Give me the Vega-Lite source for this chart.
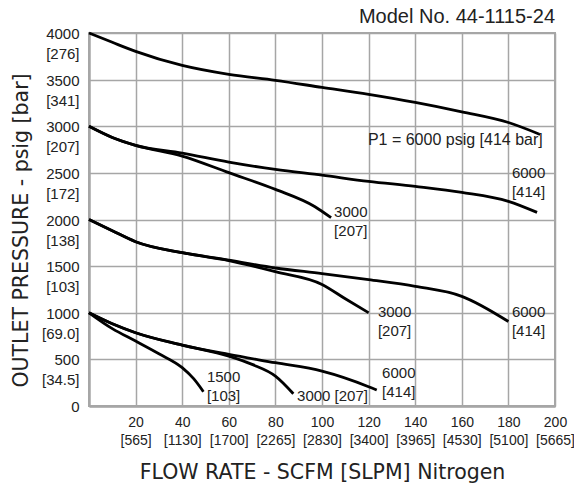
{
  "$schema": "https://vega.github.io/schema/vega-lite/v6.json",
  "width": 466,
  "height": 373,
  "autosize": {"type": "none"},
  "padding": {"left": 89, "top": 33, "right": 19, "bottom": 80},
  "background": "white",
  "config": {"view": {"stroke": "#a6a6a6", "strokeWidth": 2}, "font": "Liberation Sans"},
  "datasets": {
    "curves": [
      {"series": "A", "flow": 0, "pressure": 4000},
      {"series": "A", "flow": 10, "pressure": 3900},
      {"series": "A", "flow": 20, "pressure": 3803},
      {"series": "A", "flow": 40, "pressure": 3652},
      {"series": "A", "flow": 60, "pressure": 3556},
      {"series": "A", "flow": 80, "pressure": 3492},
      {"series": "A", "flow": 100, "pressure": 3417},
      {"series": "A", "flow": 120, "pressure": 3342},
      {"series": "A", "flow": 140, "pressure": 3256},
      {"series": "A", "flow": 160, "pressure": 3155},
      {"series": "A", "flow": 180, "pressure": 3040},
      {"series": "A", "flow": 193.6, "pressure": 2912},
      {"series": "B", "flow": 0, "pressure": 3000},
      {"series": "B", "flow": 10, "pressure": 2880},
      {"series": "B", "flow": 20, "pressure": 2795},
      {"series": "B", "flow": 40, "pressure": 2712},
      {"series": "B", "flow": 60, "pressure": 2616},
      {"series": "B", "flow": 80, "pressure": 2537},
      {"series": "B", "flow": 100, "pressure": 2475},
      {"series": "B", "flow": 120, "pressure": 2409},
      {"series": "B", "flow": 140, "pressure": 2355},
      {"series": "B", "flow": 160, "pressure": 2291},
      {"series": "B", "flow": 180, "pressure": 2195},
      {"series": "B", "flow": 192.3, "pressure": 2076},
      {"series": "C", "flow": 0, "pressure": 3000},
      {"series": "C", "flow": 10, "pressure": 2880},
      {"series": "C", "flow": 20, "pressure": 2795},
      {"series": "C", "flow": 40, "pressure": 2680},
      {"series": "C", "flow": 60, "pressure": 2502},
      {"series": "C", "flow": 80, "pressure": 2323},
      {"series": "C", "flow": 97, "pressure": 2137},
      {"series": "C", "flow": 103.9, "pressure": 2019},
      {"series": "D", "flow": 0, "pressure": 2000},
      {"series": "D", "flow": 10, "pressure": 1880},
      {"series": "D", "flow": 20, "pressure": 1762},
      {"series": "D", "flow": 40, "pressure": 1644},
      {"series": "D", "flow": 60, "pressure": 1565},
      {"series": "D", "flow": 80, "pressure": 1480},
      {"series": "D", "flow": 100, "pressure": 1420},
      {"series": "D", "flow": 120, "pressure": 1355},
      {"series": "D", "flow": 140, "pressure": 1283},
      {"series": "D", "flow": 160, "pressure": 1176},
      {"series": "D", "flow": 180, "pressure": 906},
      {"series": "E", "flow": 0, "pressure": 2000},
      {"series": "E", "flow": 10, "pressure": 1880},
      {"series": "E", "flow": 20, "pressure": 1762},
      {"series": "E", "flow": 40, "pressure": 1644},
      {"series": "E", "flow": 60, "pressure": 1560},
      {"series": "E", "flow": 80, "pressure": 1440},
      {"series": "E", "flow": 100, "pressure": 1304},
      {"series": "E", "flow": 110, "pressure": 1150},
      {"series": "E", "flow": 120, "pressure": 1000},
      {"series": "F", "flow": 0, "pressure": 1000},
      {"series": "F", "flow": 10, "pressure": 882},
      {"series": "F", "flow": 20, "pressure": 786},
      {"series": "F", "flow": 40, "pressure": 653},
      {"series": "F", "flow": 60, "pressure": 553},
      {"series": "F", "flow": 80, "pressure": 464},
      {"series": "F", "flow": 100, "pressure": 374},
      {"series": "F", "flow": 120, "pressure": 207},
      {"series": "F", "flow": 123.5, "pressure": 171},
      {"series": "G", "flow": 0, "pressure": 1000},
      {"series": "G", "flow": 10, "pressure": 882},
      {"series": "G", "flow": 20, "pressure": 786},
      {"series": "G", "flow": 40, "pressure": 653},
      {"series": "G", "flow": 60, "pressure": 535},
      {"series": "G", "flow": 70, "pressure": 446},
      {"series": "G", "flow": 80, "pressure": 321},
      {"series": "G", "flow": 87.7, "pressure": 132},
      {"series": "H", "flow": 0, "pressure": 1000},
      {"series": "H", "flow": 10, "pressure": 830},
      {"series": "H", "flow": 20, "pressure": 696},
      {"series": "H", "flow": 30, "pressure": 560},
      {"series": "H", "flow": 40, "pressure": 411},
      {"series": "H", "flow": 45, "pressure": 290},
      {"series": "H", "flow": 49.1, "pressure": 153}
    ],
    "labels": [
      {"flow": 181.5, "pressure": 2575, "label": "6000\n[414]"},
      {"flow": 105.2, "pressure": 2157, "label": "3000\n[207]"},
      {"flow": 124, "pressure": 1084, "label": "3000\n[207]"},
      {"flow": 181.5, "pressure": 1084, "label": "6000\n[414]"},
      {"flow": 50.6, "pressure": 387, "label": "1500\n[103]"},
      {"flow": 89.3, "pressure": 183, "label": "3000 [207]"},
      {"flow": 125.8, "pressure": 430, "label": "6000\n[414]"}
    ],
    "note": [
      {"flow": 119.7, "pressure": 2934, "label": "P1 = 6000 psig [414 bar]"}
    ],
    "heading": [
      {"flow": 200, "pressure": 4110, "label": "Model No. 44-1115-24"}
    ]
  },
  "layer": [
    {
      "data": {"name": "curves"},
      "mark": {"type": "line", "interpolate": "monotone", "color": "#000000", "strokeWidth": 2.8},
      "encoding": {
        "x": {
          "field": "flow", "type": "quantitative",
          "scale": {"domain": [0, 200], "nice": false},
          "axis": {
            "values": [20, 40, 60, 80, 100, 120, 140, 160, 180, 200],
            "format": "d",
            "labelExpr": "[datum.label, ['', '[565]', '[1130]', '[1700]', '[2265]', '[2830]', '[3400]', '[3965]', '[4530]', '[5100]', '[5665]'][round(datum.value / 20)]]",
            "title": "FLOW RATE - SCFM [SLPM] Nitrogen",
            "ticks": false, "tickSize": 0,
            "grid": true, "gridColor": "#a6a6a6", "gridWidth": 1.5,
            "domainColor": "#a6a6a6", "domainWidth": 2.5,
            "labelFont": "Liberation Sans", "labelFontSize": 14, "labelColor": "#222222",
            "labelPadding": 9, "labelBaseline": "top", "labelLineHeight": 18,
            "labelOverlap": false, "labelFlush": false, "labelBound": false,
            "titleFont": "DejaVu Sans", "titleFontSize": 20.5, "titleFontWeight": "normal", "titleColor": "#222222",
            "titleX": 233, "titleY": 72, "titleBaseline": "alphabetic", "titleAlign": "center"
          }
        },
        "y": {
          "field": "pressure", "type": "quantitative",
          "scale": {"domain": [0, 4000], "nice": false},
          "axis": {
            "values": [0, 500, 1000, 1500, 2000, 2500, 3000, 3500, 4000],
            "format": "d",
            "labelExpr": "datum.value == 0 ? '0' : [datum.label, ['', '[34.5]', '[69.0]', '[103]', '[138]', '[172]', '[207]', '[341]', '[276]'][round(datum.value / 500)]]",
            "title": "OUTLET PRESSURE - psig [bar]",
            "ticks": false, "tickSize": 0,
            "grid": true, "gridColor": "#a6a6a6", "gridWidth": 1.5,
            "domainColor": "#a6a6a6", "domainWidth": 2.5,
            "labelFont": "Liberation Sans", "labelFontSize": 15, "labelColor": "#222222",
            "labelPadding": 10, "labelBaseline": "top", "labelOffset": -6.5, "labelLineHeight": 20,
            "labelOverlap": false, "labelFlush": false, "labelBound": false,
            "titleFont": "DejaVu Sans", "titleFontSize": 20.5, "titleFontWeight": "normal", "titleColor": "#222222",
            "titleX": -62, "titleY": 197, "titleAngle": -90, "titleBaseline": "alphabetic", "titleAlign": "center"
          }
        },
        "detail": {"field": "series", "type": "nominal"}
      }
    },
    {
      "data": {"name": "labels"},
      "mark": {"type": "text", "align": "left", "baseline": "top", "lineBreak": "\n", "font": "Liberation Sans", "fontSize": 15, "color": "#222222", "lineHeight": 19},
      "encoding": {
        "x": {"field": "flow", "type": "quantitative"},
        "y": {"field": "pressure", "type": "quantitative"},
        "text": {"field": "label", "type": "nominal"}
      }
    },
    {
      "data": {"name": "note"},
      "mark": {"type": "text", "align": "left", "baseline": "top", "font": "Liberation Sans", "fontSize": 16, "color": "#222222"},
      "encoding": {
        "x": {"field": "flow", "type": "quantitative"},
        "y": {"field": "pressure", "type": "quantitative"},
        "text": {"field": "label", "type": "nominal"}
      }
    },
    {
      "data": {"name": "heading"},
      "mark": {"type": "text", "align": "right", "baseline": "alphabetic", "font": "Liberation Sans", "fontSize": 20, "color": "#222222"},
      "encoding": {
        "x": {"field": "flow", "type": "quantitative"},
        "y": {"field": "pressure", "type": "quantitative"},
        "text": {"field": "label", "type": "nominal"}
      }
    }
  ]
}
